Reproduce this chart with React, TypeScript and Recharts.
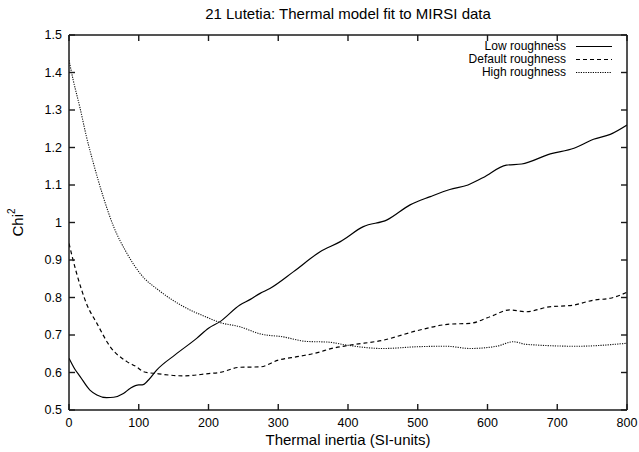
import { Line, LineChart, ReferenceArea, XAxis, YAxis } from "recharts";

const FONT = "'Liberation Sans', Arial, Helvetica, sans-serif";

const xTicks = [0, 100, 200, 300, 400, 500, 600, 700, 800];
const yTicks = [0.5, 0.6, 0.7, 0.8, 0.9, 1, 1.1, 1.2, 1.3, 1.4, 1.5];

const lowX = [0, 8, 16, 30, 40, 54, 64, 78, 88, 100, 105, 114, 126, 152, 183, 200, 216, 245, 260, 274, 288, 322, 360, 389, 422, 456, 489, 518, 546, 572, 594, 627, 649, 690, 724, 752, 776, 800];
const lowY = [0.638, 0.61, 0.589, 0.553, 0.54, 0.533, 0.534, 0.544, 0.558, 0.567, 0.567, 0.58, 0.607, 0.647, 0.691, 0.718, 0.735, 0.78, 0.795, 0.811, 0.824, 0.869, 0.922, 0.949, 0.989, 1.007, 1.047, 1.069, 1.088, 1.1, 1.12, 1.153, 1.156, 1.183, 1.198, 1.222, 1.235, 1.26];

const defX = [0, 11, 25, 40, 59, 83, 97, 107, 126, 164, 200, 216, 245, 274, 300, 330, 360, 372, 403, 450, 500, 546, 575, 604, 632, 656, 685, 724, 752, 776, 800];
const defY = [0.944, 0.864, 0.784, 0.731, 0.669, 0.629, 0.615, 0.602, 0.597, 0.591, 0.597, 0.6, 0.614, 0.615, 0.633, 0.643, 0.655, 0.662, 0.673, 0.686, 0.712, 0.729, 0.731, 0.749, 0.767, 0.762, 0.774, 0.78, 0.793, 0.798, 0.814];

const highX = [0, 6, 16, 25, 35, 49, 64, 83, 102, 131, 164, 198, 217, 245, 274, 307, 340, 372, 398, 450, 503, 541, 575, 613, 637, 656, 728, 800];
const highY = [1.433, 1.38, 1.304, 1.229, 1.158, 1.069, 0.989, 0.918, 0.864, 0.816, 0.776, 0.747, 0.733, 0.722, 0.703, 0.695, 0.683, 0.681, 0.673, 0.664, 0.669, 0.67, 0.664, 0.67, 0.682, 0.675, 0.67, 0.678];

const seriesNames = ["Low roughness", "Default roughness", "High roughness"];
const seriesDash = ["", "4 3", "1.2 1.2"];

const toPoints = (xs: number[], ys: number[]) => xs.map((x, i) => ({ x, y: ys[i] }));

const lowData = toPoints(lowX, lowY);
const defData = toPoints(defX, defY);
const highData = toPoints(highX, highY);

const TICK_LEN = 6;
const X_MARGIN = 8;
const Y_MARGIN = 7;
const INK = "#1a1a1a";

const fmtY = (v: number) => String(Number(v.toFixed(1)));

// gnuplot-style ticks: marks point into the plot, labels stay outside
function BottomTick(props: any) {
  const { x, y, payload } = props;
  const axisY = Number(y) - X_MARGIN;
  return (
    <g>
      <line x1={x} x2={x} y1={axisY} y2={axisY - TICK_LEN} stroke={INK} strokeWidth={1.4} />
      <text x={x} y={y} dy="0.71em" textAnchor="middle" fontSize={12.5} fontFamily={FONT} fill="#000">
        {payload.value}
      </text>
    </g>
  );
}

function LeftTick(props: any) {
  const { x, y, payload } = props;
  const axisX = Number(x) + Y_MARGIN;
  return (
    <g>
      <line x1={axisX} x2={axisX + TICK_LEN} y1={y} y2={y} stroke={INK} strokeWidth={1.4} />
      <text x={x} y={y} dy="0.355em" textAnchor="end" fontSize={12.5} fontFamily={FONT} fill="#000">
        {fmtY(payload.value)}
      </text>
    </g>
  );
}

function TopTick(props: any) {
  const { x, y } = props;
  return <line x1={x} x2={x} y1={y} y2={Number(y) + TICK_LEN} stroke={INK} strokeWidth={1.4} />;
}

function RightTick(props: any) {
  const { x, y } = props;
  return <line x1={x} x2={Number(x) - TICK_LEN} y1={y} y2={y} stroke={INK} strokeWidth={1.4} />;
}

function ChiLabel(props: any) {
  const vb = props.viewBox || { x: 0, y: 35, width: 69, height: 375 };
  const cx = 17;
  const cy = vb.y + vb.height / 2;
  return (
    <text
      x={cx}
      y={cy}
      transform={`rotate(-90, ${cx}, ${cy})`}
      textAnchor="middle"
      dominantBaseline="central"
      fontSize={15}
      fontFamily={FONT}
      fill="#000"
    >
      Chi
      <tspan fontSize={10} dy={-6}>2</tspan>
    </text>
  );
}

export default function App() {
  return (
    <div style={{ position: "absolute", left: 0, top: 0, width: 639, height: 452, background: "#fff" }}>
      <div
        style={{
          position: "absolute",
          left: 69,
          width: 558,
          top: 5,
          textAlign: "center",
          fontFamily: FONT,
          fontSize: 15,
          lineHeight: "18px",
          color: "#000",
        }}
      >
        21 Lutetia: Thermal model fit to MIRSI data
      </div>
      <LineChart width={639} height={452} margin={{ top: 34, right: 11, bottom: 0, left: 0 }}>
        <XAxis
          dataKey="x"
          type="number"
          domain={[0, 800]}
          ticks={xTicks}
          interval={0}
          allowDataOverflow
          height={42}
          stroke={INK}
          tickLine={false}
          tickSize={0}
          tickMargin={X_MARGIN}
          tick={(p: any) => <BottomTick {...p} />}
          label={{ value: "Thermal inertia (SI-units)", position: "insideBottom", offset: 7, fill: "#000", fontSize: 15, fontFamily: FONT }}
        />
        <XAxis
          xAxisId="top"
          dataKey="x"
          orientation="top"
          type="number"
          domain={[0, 800]}
          ticks={xTicks}
          interval={0}
          allowDataOverflow
          height={1}
          stroke={INK}
          tickLine={false}
          tickSize={0}
          tickMargin={0}
          tick={(p: any) => <TopTick {...p} />}
        />
        <YAxis
          type="number"
          domain={[0.5, 1.5]}
          ticks={yTicks}
          interval={0}
          allowDataOverflow
          width={69}
          stroke={INK}
          tickLine={false}
          tickSize={0}
          tickMargin={Y_MARGIN}
          tick={(p: any) => <LeftTick {...p} />}
          label={<ChiLabel />}
        />
        <YAxis
          yAxisId="right"
          orientation="right"
          type="number"
          domain={[0.5, 1.5]}
          ticks={yTicks}
          interval={0}
          allowDataOverflow
          width={1}
          stroke={INK}
          tickLine={false}
          tickSize={0}
          tickMargin={0}
          tick={(p: any) => <RightTick {...p} />}
        />
        <ReferenceArea x1={0} x2={800} y1={0.5} y2={1.5} fill="none" stroke={INK} strokeWidth={1} ifOverflow="visible" />
        <Line data={lowData} dataKey="y" name={seriesNames[0]} type="monotone" stroke="#000" strokeWidth={1.2} dot={false} isAnimationActive={false} />
        <Line data={defData} xAxisId="top" yAxisId="right" dataKey="y" name={seriesNames[1]} type="monotone" stroke="#000" strokeWidth={1.2} strokeDasharray={seriesDash[1]} dot={false} isAnimationActive={false} />
        <Line data={highData} dataKey="y" name={seriesNames[2]} type="monotone" stroke="#111" strokeWidth={1.1} strokeDasharray={seriesDash[2]} dot={false} isAnimationActive={false} />
      </LineChart>
      <div style={{ position: "absolute", left: 372, top: 40, width: 240 }}>
        {seriesNames.map((name, i) => (
          <div key={name} style={{ display: "flex", alignItems: "center", justifyContent: "flex-end", height: 13 }}>
            <span style={{ fontFamily: FONT, fontSize: 12, lineHeight: "13px", color: "#000" }}>{name}</span>
            <svg width={46} height={13}>
              <line x1={10} x2={46} y1={6.5} y2={6.5} stroke="#000" strokeWidth={1.2} strokeDasharray={seriesDash[i] || undefined} />
            </svg>
          </div>
        ))}
      </div>
    </div>
  );
}
